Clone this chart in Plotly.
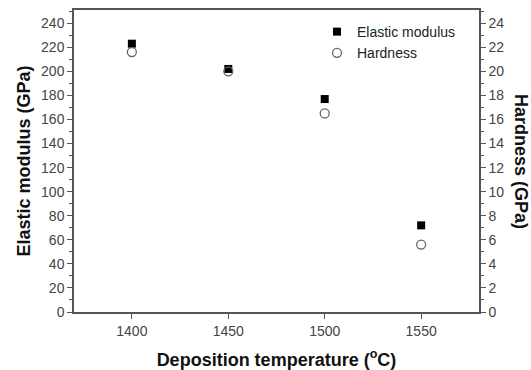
import plotly.graph_objects as go

temperature = [1400, 1450, 1500, 1550]
elastic_modulus = [223, 202, 177, 72]
hardness = [21.6, 20.0, 16.5, 5.6]

FONT = "Liberation Sans, Arial, sans-serif"
AXC = "#555555"

fig = go.Figure()
fig.add_trace(go.Scatter(
    x=temperature, y=elastic_modulus, mode="markers", name="Elastic modulus",
    marker=dict(symbol="square", size=8, color="#000000", line=dict(width=0)),
    yaxis="y"))
fig.add_trace(go.Scatter(
    x=temperature, y=hardness, mode="markers", name="Hardness",
    marker=dict(symbol="circle-open", size=9, color="#666666", line=dict(width=1.3)),
    yaxis="y2"))

fig.update_layout(
    width=531, height=370,
    margin=dict(l=74, r=52, t=10, b=58, autoexpand=False),
    plot_bgcolor="white", paper_bgcolor="white",
    font=dict(family=FONT, size=14, color="#333333"),
    showlegend=True,
    legend=dict(x=0.60, y=0.98, xanchor="left", yanchor="top",
                bgcolor="rgba(0,0,0,0)", borderwidth=0,
                font=dict(size=14, color="#222222"), itemwidth=30,
                tracegroupgap=0),
    xaxis=dict(range=[1370, 1580], tickvals=temperature, ticks="outside",
               ticklen=5, tickwidth=1.2, tickcolor=AXC, automargin=False,
               showline=True, linecolor=AXC, linewidth=1.5, mirror=True,
               showgrid=False, zeroline=False,
               tickfont=dict(size=14, color="#444444"),
               title=dict(text="<b>Deposition temperature (<sup>o</sup>C)</b>",
                          font=dict(size=18, color="#111111"), standoff=16)),
    yaxis=dict(range=[0, 251], dtick=20, ticks="outside", ticklen=5,
               tickwidth=1.2, tickcolor=AXC, automargin=False,
               minor=dict(dtick=10, ticks="outside", ticklen=3, tickcolor=AXC),
               showline=True, linecolor=AXC, linewidth=1.5,
               showgrid=False, zeroline=False,
               tickfont=dict(size=14, color="#444444"),
               title=dict(text="<b>Elastic modulus (GPa)</b>",
                          font=dict(size=18, color="#111111"), standoff=6)),
    yaxis2=dict(range=[0, 25.1], dtick=2, overlaying="y", side="right",
                ticks="outside", ticklen=5, tickwidth=1.2, tickcolor=AXC,
                automargin=False,
                minor=dict(dtick=1, ticks="outside", ticklen=3, tickcolor=AXC),
                showline=True, linecolor=AXC, linewidth=1.5,
                showgrid=False, zeroline=False,
                tickfont=dict(size=14, color="#444444")),
)

fig.add_annotation(text="<b>Hardness (GPa)</b>", textangle=90,
                   xref="paper", yref="paper", x=1.0, y=0.5,
                   xshift=42, xanchor="center", yanchor="middle",
                   showarrow=False, font=dict(size=18, color="#111111"))

fig.write_html("out.html")
